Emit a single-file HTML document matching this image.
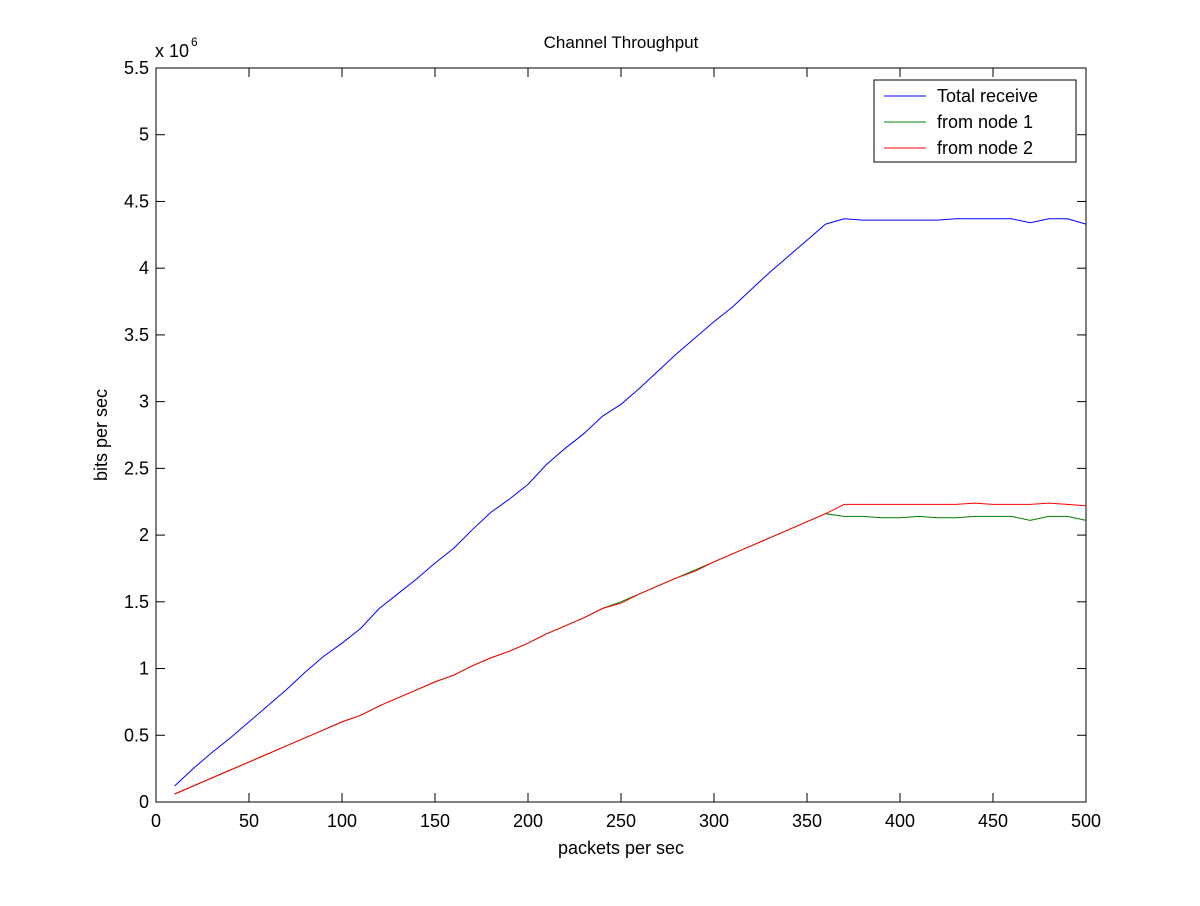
<!DOCTYPE html>
<html><head><meta charset="utf-8"><style>
body{margin:0;background:#fff}
text{font-family:"Liberation Sans",Arial,sans-serif;fill:#000}
</style></head><body>
<svg id="chart" width="1200" height="901" xmlns="http://www.w3.org/2000/svg">
<rect width="1200" height="901" fill="#fff"/>
<g id="g"></g>
</svg>
<script>
const xs=[10,20,30,40,50,60,70,80,90,100,110,120,130,140,150,160,170,180,190,200,210,220,230,240,250,260,270,280,290,300,310,320,330,340,350,360,370,380,390,400,410,420,430,440,450,460,470,480,490,500];
const totalReceive=[0.12,0.25,0.37,0.48,0.6,0.72,0.84,0.97,1.09,1.19,1.3,1.45,1.56,1.67,1.79,1.9,2.04,2.17,2.27,2.38,2.53,2.65,2.76,2.89,2.98,3.1,3.23,3.36,3.48,3.6,3.71,3.84,3.97,4.09,4.21,4.33,4.37,4.36,4.36,4.36,4.36,4.36,4.37,4.37,4.37,4.37,4.34,4.37,4.37,4.33];
const fromNode1=[0.06,0.12,0.18,0.24,0.3,0.36,0.42,0.48,0.54,0.6,0.65,0.72,0.78,0.84,0.9,0.95,1.02,1.08,1.13,1.19,1.26,1.32,1.38,1.45,1.5,1.56,1.62,1.68,1.74,1.8,1.86,1.92,1.98,2.04,2.1,2.16,2.14,2.14,2.13,2.13,2.14,2.13,2.13,2.14,2.14,2.14,2.11,2.14,2.14,2.11];
const fromNode2=[0.06,0.12,0.18,0.24,0.3,0.36,0.42,0.48,0.54,0.6,0.65,0.72,0.78,0.84,0.9,0.95,1.02,1.08,1.13,1.19,1.26,1.32,1.38,1.45,1.49,1.56,1.62,1.68,1.73,1.8,1.86,1.92,1.98,2.04,2.1,2.16,2.23,2.23,2.23,2.23,2.23,2.23,2.23,2.24,2.23,2.23,2.23,2.24,2.23,2.22];
const xTicks=[0,50,100,150,200,250,300,350,400,450,500];
const yTicks=[0,0.5,1,1.5,2,2.5,3,3.5,4,4.5,5,5.5];
const yLabels=["0","0.5","1","1.5","2","2.5","3","3.5","4","4.5","5","5.5"];
const L=156,R=1086,T=68,B=802;
const sx=v=>L+(v-0)/500*(R-L);
const sy=v=>B-(v/5.5)*(B-T);
const g=document.getElementById('g');
const NS="http://www.w3.org/2000/svg";
function mk(tag,attrs,name){const e=document.createElementNS(NS,tag);for(const k in attrs)e.setAttribute(k,attrs[k]);


g.appendChild(e);return e;}
mk('rect',{x:L,y:T,width:R-L,height:B-T,fill:'none',stroke:'#000','stroke-width':1},'plot-frame');
xTicks.forEach(v=>{const x=sx(v);
mk('line',{x1:x,y1:B,x2:x,y2:B-9,stroke:'#000'},'x-tick');
mk('line',{x1:x,y1:T,x2:x,y2:T+9,stroke:'#000'},'x-tick-top');
const t=mk('text',{x:x,y:B+25,'text-anchor':'middle','font-size':18},'x-tick-label');t.textContent=v;});
yTicks.forEach((v,i)=>{const y=sy(v);
mk('line',{x1:L,y1:y,x2:L+9,y2:y,stroke:'#000'},'y-tick');
mk('line',{x1:R,y1:y,x2:R-9,y2:y,stroke:'#000'},'y-tick-right');
const t=mk('text',{x:L-7,y:y+6,'text-anchor':'end','font-size':18},'y-tick-label');t.textContent=yLabels[i];});
function series(vals,color,name){const d=xs.map((x,i)=>(i?'L':'M')+sx(x).toFixed(1)+','+sy(vals[i]).toFixed(1)).join(' ');
mk('path',{d:d,fill:'none',stroke:color,'stroke-width':1},name);}
series(totalReceive,'#0000ff','line-total-receive');
series(fromNode1,'#008000','line-from-node-1');
series(fromNode2,'#ff0000','line-from-node-2');
let t=mk('text',{x:621,y:48,'text-anchor':'middle','font-size':17},'chart-title');t.textContent='Channel Throughput';
t=mk('text',{x:621,y:854,'text-anchor':'middle','font-size':18},'x-axis-title');t.textContent='packets per sec';
t=mk('text',{x:107,y:435,'text-anchor':'middle','font-size':18,transform:'rotate(-90 107 435)'},'y-axis-title');t.textContent='bits per sec';
t=mk('text',{x:155,y:57,'font-size':18},'y-exponent');t.textContent='x 10';
t=mk('text',{x:191,y:46,'font-size':12},'y-exponent-power');t.textContent='6';
mk('rect',{x:874,y:80,width:202,height:82,fill:'#fff',stroke:'#000'},'legend-box');
[['Total receive','#0000ff',96],['from node 1','#008000',122],['from node 2','#ff0000',148]].forEach(([n,c,y])=>{
mk('line',{x1:884,y1:y,x2:926,y2:y,stroke:c},'legend-swatch');
const tt=mk('text',{x:937,y:y+6,'font-size':18},'legend-entry');tt.textContent=n;});
</script>
</body></html>
